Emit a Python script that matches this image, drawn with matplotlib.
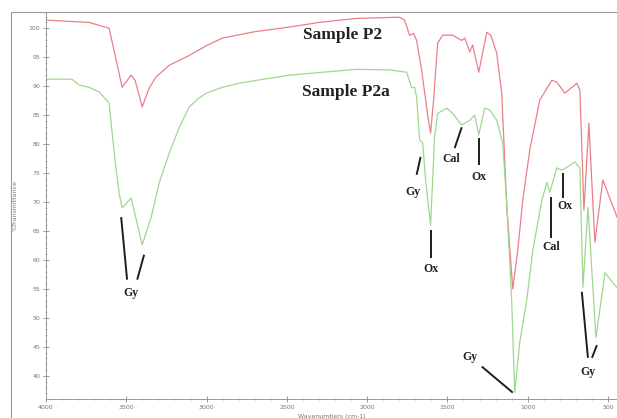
import matplotlib
matplotlib.use("Agg")
import matplotlib.pyplot as plt
from matplotlib.patches import Rectangle
from matplotlib.ticker import MultipleLocator

# FTIR spectra (wavenumber cm-1, %T)
p2_wavenumber = [4000, 3732, 3669, 3607, 3563, 3526, 3470, 3445, 3401, 3357,
                 3314, 3233, 3108, 3000, 2902, 2700, 2484, 2300, 2066, 1798,
                 1767, 1736, 1711, 1692, 1661, 1623, 1605, 1586, 1561, 1530,
                 1467, 1411, 1392, 1361, 1343, 1305, 1255, 1230, 1193, 1162,
                 1130, 1093, 1062, 1031, 987, 925, 850, 819, 769, 694,
                 675, 650, 619, 582, 532, 444]
p2_transmittance = [101.4, 101.0, 100.5, 100.0, 94.5, 89.8, 91.9, 91.0, 86.4, 89.7,
                    91.6, 93.6, 95.3, 97.0, 98.3, 99.4, 100.2, 101.0, 101.7, 101.9,
                    101.4, 98.8, 99.1, 97.9, 92.8, 85.0, 81.9, 87.6, 97.4, 98.8,
                    98.8, 97.9, 98.3, 95.9, 97.1, 92.4, 99.3, 98.8, 95.7, 88.8,
                    69.0, 55.0, 61.7, 70.3, 79.0, 87.6, 91.0, 90.7, 88.8, 90.5,
                    89.3, 68.6, 83.6, 63.1, 73.8, 67.4]

p2a_wavenumber = [4000, 3838, 3794, 3732, 3669, 3607, 3588, 3563, 3545, 3526,
                  3470, 3401, 3345, 3295, 3233, 3170, 3108, 3050, 3002, 2902,
                  2800, 2690, 2484, 2278, 2066, 1860, 1754, 1723, 1704, 1692,
                  1673, 1654, 1636, 1605, 1580, 1561, 1505, 1467, 1411, 1361,
                  1330, 1305, 1268, 1236, 1193, 1156, 1132, 1100, 1081, 1050,
                  1006, 968, 912, 881, 862, 819, 787, 756, 706, 675,
                  656, 625, 575, 519, 444]
p2a_transmittance = [91.2, 91.2, 90.2, 89.8, 89.0, 87.1, 81.9, 75.5, 71.6, 69.0,
                     70.7, 62.6, 67.4, 73.3, 78.4, 82.9, 86.4, 87.9, 88.8, 89.8,
                     90.5, 91.0, 91.9, 92.4, 92.9, 92.8, 92.4, 89.7, 89.8, 88.1,
                     80.7, 80.2, 73.8, 66.0, 81.2, 85.3, 86.2, 85.3, 83.3, 84.1,
                     85.0, 81.6, 86.2, 85.9, 84.1, 80.2, 70.3, 53.1, 37.1, 45.7,
                     53.1, 61.7, 70.3, 73.4, 71.7, 75.9, 75.5, 76.0, 76.9, 75.9,
                     55.3, 69.1, 46.6, 57.8, 55.2]

# band labels: text, label position, list of pointer segments
band_labels = [
    ("Gy", (3470, 54.3), [((3532, 67.4), (3495, 56.6)), ((3389, 60.9), (3432, 56.6))]),
    ("Gy", (1717, 71.7), [((1667, 77.8), (1692, 74.7))]),
    ("Ox", (1605, 58.5), [((1605, 65.2), (1605, 60.3))]),
    ("Cal", (1474, 77.4), [((1411, 82.9), (1455, 79.3))]),
    ("Ox", (1305, 74.3), [((1305, 81.0), (1305, 76.4))]),
    ("Gy", (1361, 43.2), [((1286, 41.6), (1093, 37.1))]),
    ("Cal", (856, 62.2), [((856, 70.9), (856, 63.8))]),
    ("Ox", (769, 69.3), [((781, 75.0), (781, 70.7))]),
    ("Gy", (625, 40.7), [((663, 54.5), (625, 43.1)), ((569, 45.3), (600, 43.1))]),
]

fig = plt.figure(figsize=(6.17, 4.18), dpi=100)
ax = fig.add_axes([46 / 617, 1 - 399 / 418, 1 - 46 / 617, (399 - 12) / 418])

ax.plot(p2_wavenumber, p2_transmittance, color='#ea7f86', lw=0.9)
ax.plot(p2a_wavenumber, p2a_transmittance, color='#9ed88e', lw=0.9)

ax.set_xlim(4000, 444)
ax.set_ylim(36.0, 102.8)

serif = 'Liberation Serif'
ax.text(2150, 98.8, 'Sample P2', family=serif, fontweight='bold', fontsize=12.5,
        ha='center', va='center', color='#222222')
ax.text(2130, 89.0, 'Sample P2a', family=serif, fontweight='bold', fontsize=12.5,
        ha='center', va='center', color='#222222')

for text, pos, segs in band_labels:
    for (x0, y0), (x1, y1) in segs:
        ax.plot([x0, x1], [y0, y1], color='#1e1e1e', lw=1.4, solid_capstyle='butt')
    ax.text(pos[0], pos[1], text, family=serif, fontweight='bold', fontsize=8.5,
            ha='center', va='center', color='#222222')

ax.xaxis.set_major_locator(MultipleLocator(500))
ax.xaxis.set_minor_locator(MultipleLocator(100))
ax.yaxis.set_major_locator(MultipleLocator(5))
ax.yaxis.set_minor_locator(MultipleLocator(1))
ax.set_yticks(range(40, 101, 5))
ax.tick_params(which='major', direction='inout', length=4, width=0.6,
               colors='#888888', labelsize=4.5, labelcolor='#777777', pad=2)
ax.tick_params(which='minor', direction='inout', length=2, width=0.5, colors='#999999')

for side in ['top', 'right']:
    ax.spines[side].set_visible(False)
for side in ['left', 'bottom']:
    ax.spines[side].set_color('#999999')
    ax.spines[side].set_linewidth(0.7)

ax.set_ylabel('%Transmittance', fontsize=4.5, color='#777777', labelpad=8)
ax.set_xlabel('Wavenumbers (cm-1)', fontsize=4.5, color='#777777', labelpad=3)

fig.patches.append(Rectangle((11 / 617, -0.1), 1.2, 1 - 12 / 418 + 0.1,
                             transform=fig.transFigure, fill=False,
                             edgecolor='#9a9a9a', lw=0.8))

fig.savefig('out.png', dpi=100)
